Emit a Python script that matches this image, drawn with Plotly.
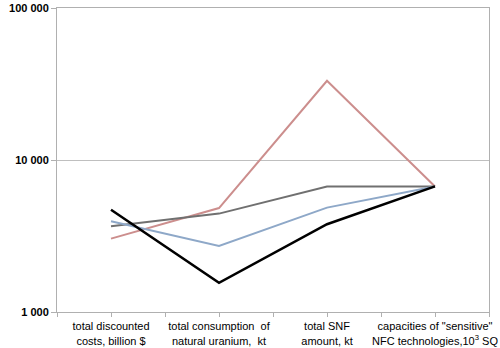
import plotly.graph_objects as go

categories = [
    "total discounted<br>costs, billion $",
    "total consumption  of<br>natural uranium,  kt",
    "total SNF<br>amount, kt",
    "capacities of \"sensitive\"<br>NFC technologies,10<sup>3</sup> SQ",
]
x_pos = [0, 1, 2, 3]

series_red = [3040, 4830, 33200, 6700]
series_gray = [3660, 4440, 6700, 6700]
series_blue = [3950, 2720, 4860, 6700]
series_black = [4710, 1556, 3780, 6700]

y_tickvals = [1000, 10000, 100000]
y_ticktext = ["1 000", "10 000", "100 000"]

fig = go.Figure()
for vals, color, width in [
    (series_red, "#CC8E8D", 2),
    (series_gray, "#707070", 2),
    (series_blue, "#8EA8C8", 2),
    (series_black, "#000000", 2.5),
]:
    fig.add_trace(go.Scatter(x=x_pos, y=vals, mode="lines",
                             line=dict(color=color, width=width),
                             showlegend=False, hoverinfo="skip"))

fig.update_layout(
    width=500, height=348,
    margin=dict(l=57, r=11, t=8, b=36),
    plot_bgcolor="white", paper_bgcolor="white",
    font=dict(family="Liberation Sans, Arial, sans-serif", size=11, color="#000000"),
)
fig.update_xaxes(
    range=[-0.5, 3.5], tickvals=x_pos, ticktext=categories, automargin=False,
    showgrid=False, showline=True, linecolor="#B0B0B0", linewidth=1, mirror=True,
    ticks="outside", ticklen=4, tickcolor="#B0B0B0",
    minor=dict(ticks="outside", ticklen=4, tickcolor="#B0B0B0", tick0=0.5, dtick=1),
    tickfont=dict(size=11), zeroline=False,
)
fig.update_yaxes(
    type="log", range=[3, 5], tickvals=y_tickvals, ticktext=y_ticktext, automargin=False,
    showgrid=True, gridcolor="#BFBFBF", gridwidth=1,
    showline=True, linecolor="#B0B0B0", linewidth=1, mirror=True,
    ticks="outside", ticklen=5, tickcolor="#B0B0B0",
    tickfont=dict(size=11, family="Liberation Sans, Arial, sans-serif", weight="bold"),
    zeroline=False,
)
fig.write_html("out.html", config={"displayModeBar": False},
               post_script="document.body.style.margin='0px';document.body.style.overflow='hidden';")
